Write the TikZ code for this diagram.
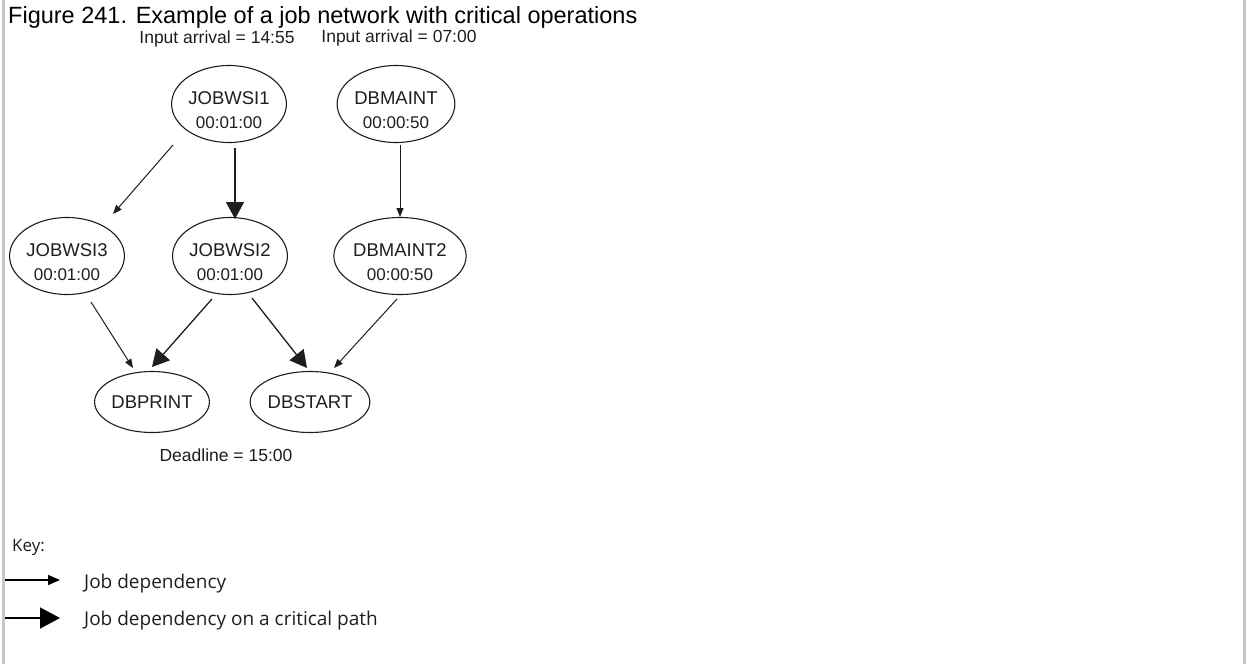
\documentclass[tikz,border=0pt]{standalone}
\usepackage{fontspec}
\setmainfont{Liberation Sans}
\newfontfamily\keyfont{Open Sans}
\usetikzlibrary{arrows.meta,shapes.geometric,calc}
\definecolor{frame}{RGB}{198,198,198}
\definecolor{ink}{RGB}{30,30,30}
\newcommand{\jobtext}[2]{\rule{0pt}{26pt}#1\\{\fontsize{17}{20}\selectfont #2}}

\begin{document}
\begin{tikzpicture}[x=1pt,y=-1pt,
  job/.style={ellipse,draw=ink,line width=1.1pt,minimum width=114pt,minimum height=77pt,
    inner sep=0pt,align=center,text=ink,font=\fontsize{18.5}{24}\selectfont},
  sink/.style={job,minimum width=112pt,minimum height=61pt},
  dep/.style={draw=ink,line width=1pt,-{Triangle[length=9pt,width=7pt]}},
  crit/.style={draw=ink,line width=1.3pt,-{Triangle[length=17pt,width=18pt]}},
  keydep/.style={draw=black,line width=1.4pt,-{Triangle[length=12pt,width=10pt]}},
  keycrit/.style={draw=black,line width=1.4pt,-{Triangle[length=20pt,width=21pt]}},
  note/.style={anchor=base,inner sep=0pt,text=ink,font=\fontsize{17.5}{20}\selectfont},
  key/.style={anchor=base west,inner sep=0pt,text=ink,font=\keyfont\fontsize{19}{22}\selectfont}]
  \useasboundingbox (0,0) rectangle (1246,664);
  \fill[frame] (2,0) rectangle (5,664);
  \fill[frame] (1243,0) rectangle (1246,664);

  \node[anchor=base west,inner sep=0pt,font=\fontsize{23.5}{28}\selectfont] (title) at (8,23)
    {Figure 241. Example of a job network with critical operations};

  % the job network
  \node[job] (j1) at (229,104) {\jobtext{JOBWSI1}{00:01:00}};
  \node[job] (dm) at (396,104) {\jobtext{DBMAINT}{00:00:50}};
  \node[job] (j3) at (67,256) {\jobtext{JOBWSI3}{00:01:00}};
  \node[job] (j2) at (230,256) {\jobtext{JOBWSI2}{00:01:00}};
  \node[job] (dm2) at (400,256) {\jobtext{DBMAINT2}{00:00:50}};
  \node[sink] (dp) at (152,402) {DBPRINT};
  \node[sink] (ds) at (310,402) {DBSTART};

  \node[note] (in1) at (217,43) {Input arrival = 14:55};
  \node[note] (in2) at (399,42) {Input arrival = 07:00};
  \node[note] (dl) at (226,461) {Deadline = 15:00};

  % dependencies
  \draw[dep] ($(j1)+(-56,41)$) -- ($(j3)+(46,-42)$);
  \draw[crit] ($(j1)+(6,44)$) -- ($(j2)+(5,-37)$);
  \draw[dep] ($(dm)+(4,41)$) -- ($(dm2)+(0,-39)$);
  \draw[dep] ($(j3)+(24,46)$) -- ($(dp)+(-19,-34)$);
  \draw[crit] ($(j2)+(-18,43)$) -- ($(dp)+(0,-35)$);
  \draw[crit] ($(j2)+(22,42)$) -- ($(ds)+(-3,-34)$);
  \draw[dep] ($(dm2)+(-3,43)$) -- ($(ds)+(24,-34)$);

  % key
  \node[key,font=\keyfont\fontsize{17}{20}\selectfont] (key) at (12,551) {Key:};
  \coordinate (k1s) at (5,580);
  \coordinate (k1e) at (60,580);
  \coordinate (k2s) at (5,618);
  \coordinate (k2e) at (60,618);
  \draw[keydep] (k1s) -- (k1e);
  \draw[keycrit] (k2s) -- (k2e);
  \node[key] (kd) at (84,588) {Job dependency};
  \node[key] (kc) at (84,625) {Job dependency on a critical path};
\end{tikzpicture}
\end{document}
